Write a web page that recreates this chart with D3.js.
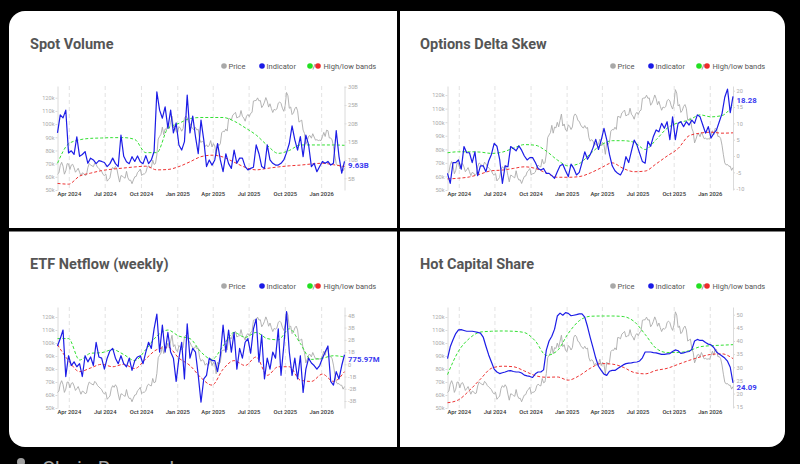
<!DOCTYPE html>
<html><head><meta charset="utf-8">
<script src="https://cdn.jsdelivr.net/npm/d3@7"></script>
<style>html,body{margin:0;padding:0;background:#000;overflow:hidden}svg{display:block}</style>
</head><body><svg id="c" width="800" height="464"></svg>
<script>
// ---------- data ----------
const startDate = "2024-03-02";   // price every 3.5 days, indicators weekly, bands every 4 weeks
const priceTicks = [50, 60, 70, 80, 90, 100, 110, 120];

const price = [62,63,68.5,71,68,62,64.5,70,69.8,65.5,
68.9,69.5,67,63.5,64.9,66.5,63.5,60.6,63,62.5,
61,61.5,67,70,69,68.3,67.7,70.5,69.3,67.3,
66.2,65.2,64.2,61.8,60.9,62.1,56.7,58,59.2,65,
67.2,65.9,67.9,66.2,60.7,56,60.9,60.6,59.5,59,
64.2,59.4,57.3,57.5,54.8,57.6,60,60.3,63.3,64.3,
65.9,61,62.1,62.2,63.2,67,68.4,67.4,67,72.7,
69.4,70,76.6,88.7,90.6,92.3,97.7,91.9,96.4,95.8,
99.9,96.6,101.4,106,97.2,98.7,94.3,93.4,98.1,96.9,
94.6,96.5,104.4,106.1,104.8,101.3,100.6,98,96.5,95.7,
97.5,95.5,96.1,88.7,86,87.2,86.1,82.9,84.3,82.7,
84,87.5,82.6,85.2,83.5,76.3,85.3,83.7,85.1,93.4,
94.6,94.3,96.3,94.7,104.2,104.1,103.2,106.8,107.8,108.9,
104.6,105.4,105.6,110.3,105.9,104.6,102.2,106,107.3,105.7,
108.2,108.9,117.5,117.8,117.9,119.9,117.6,117.9,112.5,114.1,
116.7,120.1,117.4,112.9,115.4,111.8,108.8,111.2,110.7,111.5,
115.9,116.8,115.7,112,109.7,114,124,121.5,112,113,
107.2,108.5,111.6,113,110.1,101.5,102.3,103,95.5,92.9,
84.7,87.5,90.8,91.3,89.3,92.7,90.2,87.8,88.2,87.5,
87.8,87.5,90.5,93.7,90.6,95.4,95,89.5,89.5,88,
83,76,70,68.5,68.8,67.5,67.5,64.5,66.5];

const spotVolume = [17.4,22.3,21.5,23.6,11.9,12.5,11.5,16.3,11,11.5,
12.3,9.1,10.5,10,9,9.8,9.6,9.3,8.2,9,
10.5,9,8.2,16.8,11,9.5,9,10.9,9.6,11.1,
9.5,9,11.2,9,10,12.3,28.6,23.6,21.4,24.5,
18.7,23.6,17.4,20.1,14.1,12.7,15,27.7,17.4,22,
16.4,11.7,20.9,15.5,8.2,10,8.6,10,14.5,10,
6.8,11.7,9,7.7,12.7,9.1,10.5,10.5,8.2,7.3,
7.7,8,14.1,11.7,8.2,7.7,14.1,10,9.1,8.6,
8.6,9.1,10,12,14.5,19.3,15.5,12.7,16.4,10.9,
16.8,14.1,8.2,9.1,6.8,8.2,9.6,9.1,9.6,8.6,
9.1,18,11,6.4,9.63];
const spotHigh = [9.1,14.4,15.5,15.9,16.0,16.1,16.1,15.6,12.0,12.0,18.6,20.0,21.3,21.6,21.6,21.6,20.6,18.8,16.8,14.0,11.8,12.6,14.1,14.1,14.1,14.1,14.0];
const spotLow = [3.6,3.4,5.6,6.4,7.1,7.5,7.8,8.1,8.3,7.3,7.4,8.2,9.5,10.9,11.3,10.8,9.4,8.0,7.3,7.7,8.1,8.4,8.6,8.9,9.1,8.7,8.2];
const spotTicks = [5, 10, 15, 20, 25, 30];

const deltaSkew = [-5.3,-8.4,-2,-2,-1.2,-4,2.9,1,1,-2,
1.3,-6,-3,-3,-4.8,-1.5,0.5,3.9,3,-1,
-8.4,-3,-3.3,2.9,2.3,1.6,3.1,1.8,0,-1.2,
-0.5,-0.5,-2,-3.8,-4.3,-3.8,-5.3,-5.3,-6,-6.8,
-4.8,-3,-2.5,-4.5,-6.3,-2.5,-3.8,-5.8,-5,-2,
1.3,-1,0.5,2.5,5.1,2,4.9,8.5,5,0.5,
-3,-4.5,-5.3,-5.8,-4.2,-0.2,-2,1.5,4.9,3.4,
0.8,-1.7,-2.2,4.5,3,6,8,7.4,10,8.5,
10.5,5,12,5,10,10.5,9,10.5,9.5,11,
10,12.6,12,9.5,7,9,5.5,6.9,8,10.5,
13,18,20.5,13.3,18.28];
const skewHigh = [1.0,1.3,1.3,1.2,0.8,1.2,2.4,3.5,3.3,1.5,-1.2,-3,-2.3,0.7,3.4,4.7,4.7,4.2,2.0,5,8.5,10.2,11,12.6,12,12.4,15.6];
const skewLow = [-7,-6.8,-6.4,-5.5,-4.5,-4.3,-3.8,-3.3,-3.8,-5.2,-6.5,-6.5,-6.3,-5.2,-3.6,-2.1,-3.8,-4.8,-4.6,-2.4,0,2.3,6.2,7,7.3,7,7.1];
const skewTicks = [-10, -5, 0, 5, 10, 15, 20];

const etfNetflow = [1.5,2.1,2.8,-1.0,0.7,-0.1,0.2,-0.2,0.05,-1.0,
0.7,0.2,0.6,-0.1,1.8,0.6,0.5,-0.4,0.5,1.1,
1.3,0.5,0.05,0.7,0.05,-0.2,0.5,-0.5,0.3,0.6,
0.7,0.05,1.0,1.8,1.3,2.9,4.1,1.0,3.2,1.0,
2.6,1.0,0.5,-1.4,0.5,1.8,-1.2,3.3,0.5,1.3,
1.0,-0.9,-3.1,-1.2,-0.9,0.5,0.3,0.3,-0.6,0.7,
3.2,1.0,2.8,1.0,2.6,-0.4,1.3,0.5,1.8,2.1,
0.9,2.9,3.7,0.2,2.4,-1.2,0.5,-0.4,1.0,0.5,
2.9,-0.9,1.5,4.3,1.0,-0.9,0.5,-1.2,0.7,-2.3,
-0.4,0.5,0.1,-0.1,-0.4,-0.1,0.5,1.0,1.5,-1.4,
-1.7,-0.6,-1.2,-0.1,0.78];
const etfHigh = [2.1,2.1,0.35,0.9,0.95,1.2,0.8,0.3,1.2,2.3,2.8,2.3,2.1,1.0,0.4,1.5,2.6,2.2,2.6,2.1,2.0,2.9,1.7,0.4,0.5,0.7,0.6];
const etfLow = [1.6,0.3,-0.6,-0.3,0,-0.2,0,-0.35,0.45,1.2,1.4,0.5,-0.1,-1.1,-1.7,-0.4,0.3,-0.1,0.6,-0.9,-0.2,-0.2,-1.3,-1.4,-0.8,-1.4,-0.6];
const etfTicks = [-3, -2, -1, 0, 1, 2, 3, 4];

const hotCapital = [33.3,37.8,40.5,42.8,44.2,44.3,44,43.7,43.7,43.7,
43.5,43.3,43,41.5,38,34.7,32,29.3,28.2,27.6,
27.9,28.2,28.6,28.7,28.4,28.2,28.2,27.8,27,26.7,
26.5,26.1,27.5,28.2,28.2,29,36.5,40,41.8,44.5,
49.5,50.6,49.8,50.8,50.5,49.6,49.8,50,50.3,50.3,
49.1,45.5,41.3,37.5,33.5,30.4,28.8,27.4,26.9,28.5,
28.8,28.8,29.5,30.2,30.9,31.4,31.6,31.7,31.9,32,
32.4,33.6,35.8,35.8,35.8,35.6,35.5,35.2,34.9,34.9,
35.1,35.2,36,36.6,36.3,35.3,35.5,35.8,36,36.8,
40,40.6,40.2,40.2,39.4,38.8,38.5,37.5,35.8,35,
34.3,33.5,32.3,30,24.09];
const hotHigh = [27.2,36.1,41,43.4,43.7,43.8,43.7,43.2,40,34.5,36.3,42.9,47.7,49.4,49.5,49.5,49.3,47.4,42.5,37.2,35.6,35.6,36.3,37.8,38.2,38.4,38.6];
const hotLow = [16.5,17.6,21.2,25.5,29.6,30.4,30.2,28.6,26.8,26.2,26.3,25.1,26.8,29.6,31.4,31.2,30,28,27.5,28.8,29.6,31.1,32.6,33.9,34.9,35.1,33.3];
const hotTicks = [15, 20, 25, 30, 35, 40, 45, 50];

const lastLabels = ["9.63B", "18.28", "775.97M", "24.09"];
const titles = ["Spot Volume", "Options Delta Skew", "ETF Netflow (weekly)", "Hot Capital Share"];

// ---------- layout ----------
const parse = d3.timeParse("%Y-%m-%d");
const d0 = parse(startDate);
const priceDates = price.map((_, i) => d3.timeHour.offset(d0, i * 84));
const weekDates = spotVolume.map((_, i) => d3.timeDay.offset(d0, i * 7));
const bandDates = spotHigh.map((_, j) => d3.timeDay.offset(d0, j * 28));

const svg = d3.select("#c");
svg.append("rect").attr("width", 800).attr("height", 464).attr("fill", "#000");
svg.append("rect").attr("x", 9).attr("y", 11).attr("width", 776).attr("height", 436).attr("rx", 16).attr("fill", "#fff");
svg.append("rect").attr("x", 397).attr("y", 11).attr("width", 3).attr("height", 436).attr("fill", "#000");
svg.append("rect").attr("x", 9).attr("y", 228).attr("width", 776).attr("height", 3.5).attr("fill", "#000");
svg.append("circle").attr("cx", 21).attr("cy", 462).attr("r", 4).attr("fill", "#a0a0a0");
svg.append("text").attr("x", 42).attr("y", 476).attr("font-family", "Roboto").attr("font-size", 20)
  .attr("fill", "#a0a0a0").text("Chain Research");

const cols = [{x0: 57.5, x1: 344.5, titleX: 30, legendR: 374},
              {x0: 447.5, x1: 733, titleX: 420, legendR: 763}];
const rows = [{y0: 86, y1: 190, titleY: 49, legendY: 66, xLabY: 195.5},
              {y0: 307, y1: 408, titleY: 268.5, legendY: 286, xLabY: 413.5}];

const panels = [
  {col: 0, row: 0, ind: spotVolume, hi: spotHigh, lo: spotLow, rDomain: [1.8, 30.2], rTicks: spotTicks, rFmt: v => v + "B", pDomain: [50, 128.9]},
  {col: 1, row: 0, ind: deltaSkew, hi: skewHigh, lo: skewLow, rDomain: [-10.4, 21.44], rTicks: skewTicks, rFmt: v => String(v), pDomain: [50, 126.7]},
  {col: 0, row: 1, ind: etfNetflow, hi: etfHigh, lo: etfLow, rDomain: [-3.57, 4.68], rTicks: etfTicks, rFmt: v => v === 0 ? "0" : v + "B", pDomain: [50, 127.7]},
  {col: 1, row: 1, ind: hotCapital, hi: hotHigh, lo: hotLow, rDomain: [14.5, 52.93], rTicks: hotTicks, rFmt: v => String(v), pDomain: [50, 127.7]}
];

const FONT = "Roboto, 'Open Sans', sans-serif";
const fmtMonth = d3.timeFormat("%b %Y");

panels.forEach((p, k) => {
  const c = cols[p.col], r = rows[p.row];
  const g = svg.append("g");
  const x = d3.scaleTime().domain([d0, weekDates[weekDates.length - 1]]).range([c.x0, c.x1]);
  const yP = d3.scaleLinear().domain(p.pDomain).range([r.y1, r.y0]);
  const yR = d3.scaleLinear().domain(p.rDomain).range([r.y1, r.y0]);

  // title
  g.append("text").attr("x", c.titleX).attr("y", r.titleY).attr("font-family", FONT)
    .attr("font-weight", 700).attr("font-size", 14.5).attr("fill", "#555").text(titles[k]);

  // legend
  const L = c.legendR, ly = r.legendY;
  const lg = g.append("g").attr("font-family", FONT).attr("font-size", 7.5).attr("fill", "#555");
  const dots = [[L - 150, "#a8a8a8"], [L - 112, "#1a1ae6"], [L - 64, "#22e022"], [L - 56, "#ee2a2a"]];
  lg.selectAll("circle").data(dots).join("circle").attr("cx", d => d[0]).attr("cy", ly).attr("r", 2.8).attr("fill", d => d[1]);
  lg.append("text").attr("x", L - 145.5).attr("y", ly + 2.7).text("Price");
  lg.append("text").attr("x", L - 107.5).attr("y", ly + 2.7).text("Indicator");
  lg.append("text").attr("x", L - 60).attr("y", ly + 2.7).attr("text-anchor", "middle").text("/");
  lg.append("text").attr("x", L - 50.5).attr("y", ly + 2.7).text("High/low bands");

  // grid
  const ticks = x.ticks(d3.timeMonth.every(3));
  g.append("g").selectAll("line").data(ticks).join("line")
    .attr("x1", d => x(d)).attr("x2", d => x(d)).attr("y1", r.y0).attr("y2", r.y1)
    .attr("stroke", "#dcdcdc").attr("stroke-dasharray", "4,3").attr("stroke-width", 0.8);

  // x labels
  g.append("g").selectAll("text").data(ticks).join("text")
    .attr("x", d => x(d)).attr("y", r.xLabY).attr("text-anchor", "middle")
    .attr("font-family", FONT).attr("font-size", 5.8).attr("font-weight", 500).attr("fill", "#333")
    .text(d => fmtMonth(d));

  // axes
  const axL = g.append("g").attr("transform", `translate(${c.x0},0)`)
    .call(d3.axisLeft(yP).tickValues(priceTicks).tickFormat(d => d + "k").tickSize(2).tickSizeOuter(0).tickPadding(1));
  const axR = g.append("g").attr("transform", `translate(${c.x1},0)`)
    .call(d3.axisRight(yR).tickValues(p.rTicks).tickFormat(p.rFmt).tickSize(2).tickSizeOuter(0).tickPadding(1.5));
  [axL, axR].forEach(a => {
    a.select(".domain").attr("stroke", "#dadada");
    a.selectAll(".tick line").attr("stroke", "#dadada");
    a.selectAll(".tick text").attr("fill", "#aaa").attr("font-family", FONT).attr("font-size", 5.6);
  });

  // price
  g.append("path").datum(price)
    .attr("d", d3.line().x((d, i) => x(priceDates[i])).y(d => yP(d)))
    .attr("fill", "none").attr("stroke", "#ababab").attr("stroke-width", 0.9).attr("stroke-linejoin", "round");

  // bands
  const bl = d3.line().curve(d3.curveMonotoneX).x((d, i) => x(bandDates[i])).y(d => yR(d));
  g.append("path").datum(p.hi).attr("d", bl).attr("fill", "none").attr("stroke", "#33e033")
    .attr("stroke-width", 1).attr("stroke-dasharray", "3,2");
  g.append("path").datum(p.lo).attr("d", bl).attr("fill", "none").attr("stroke", "#ee3333")
    .attr("stroke-width", 1).attr("stroke-dasharray", "3,2");

  // indicator
  g.append("path").datum(p.ind)
    .attr("d", d3.line().x((d, i) => x(weekDates[i])).y(d => yR(d)))
    .attr("fill", "none").attr("stroke", "#1c1ce6").attr("stroke-width", 1.2).attr("stroke-linejoin", "round");

  // last value label
  const lastV = p.ind[p.ind.length - 1];
  g.append("text").attr("x", c.x1 + 3.5).attr("y", yR(lastV) + 6.8)
    .attr("font-family", FONT).attr("font-weight", 700).attr("font-size", 7.8).attr("fill", "#3a3af0")
    .text(lastLabels[k]);
});
</script>
</body></html>
